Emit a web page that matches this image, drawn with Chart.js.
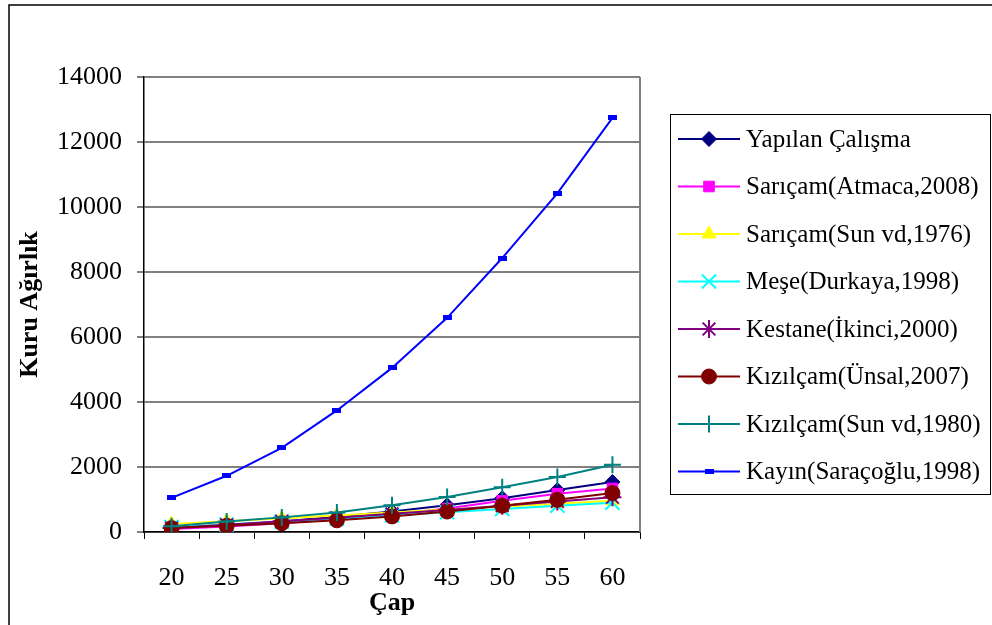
<!DOCTYPE html>
<html>
<head>
<meta charset="utf-8">
<script src="https://cdn.jsdelivr.net/npm/chart.js"></script>
<style>
  html, body { margin: 0; padding: 0; background: #fff; }
  #wrap { width: 992px; height: 625px; position: relative; }
</style>
</head>
<body>
<div id="wrap"><canvas id="c" width="992" height="625"></canvas></div>
<script>
// Çap (diameter) classes
const diameters = ['20', '25', '30', '35', '40', '45', '50', '55', '60'];

// Kuru ağırlık (dry weight) by study
const yapilanCalisma   = [110, 200, 320, 470, 630, 820, 1040, 1290, 1540];
const saricamAtmaca    = [90, 170, 270, 390, 540, 720, 960, 1180, 1340];
const saricamSun       = [250, 330, 420, 510, 600, 690, 780, 870, 960];
const meseDurkaya      = [150, 230, 320, 410, 510, 610, 710, 810, 900];
const kestaneIkinci    = [120, 220, 330, 440, 560, 680, 810, 940, 1070];
const kizilcamUnsal    = [120, 190, 270, 360, 480, 630, 810, 990, 1200];
const kizilcamSun      = [180, 320, 450, 600, 820, 1080, 1380, 1690, 2070];
const kayinSaracoglu   = [1050, 1730, 2590, 3740, 5050, 6590, 8430, 10420, 12740];

const yTicks = [0, 2000, 4000, 6000, 8000, 10000, 12000, 14000];

const seriesNames = [
  'Yapılan Çalışma',
  'Sarıçam(Atmaca,2008)',
  'Sarıçam(Sun vd,1976)',
  'Meşe(Durkaya,1998)',
  'Kestane(İkinci,2000)',
  'Kızılçam(Ünsal,2007)',
  'Kızılçam(Sun vd,1980)',
  'Kayın(Saraçoğlu,1998)'
];

// small flat bar used as the Kayın marker
const dash = document.createElement('canvas');
dash.width = 9; dash.height = 5;
(function () {
  const g = dash.getContext('2d');
  g.fillStyle = '#0000FF';
  g.fillRect(0, 0, 9, 5);
})();

const styles = [
  { color: '#000080', pointStyle: 'rectRot', radius: 7.5, bw: 1 },
  { color: '#FF00FF', pointStyle: 'rect', radius: 7.5, bw: 1 },
  { color: '#FFFF00', pointStyle: 'triangle', radius: 8, bw: 1 },
  { color: '#00FFFF', pointStyle: 'crossRot', radius: 10, bw: 2 },
  { color: '#800080', pointStyle: 'star', radius: 9, bw: 2 },
  { color: '#800000', pointStyle: 'circle', radius: 7.5, bw: 1 },
  { color: '#008080', pointStyle: 'cross', radius: 8.5, bw: 2 },
  { color: '#0000FF', pointStyle: dash, radius: 5, bw: 1 }
];

const seriesData = [yapilanCalisma, saricamAtmaca, saricamSun, meseDurkaya,
                    kestaneIkinci, kizilcamUnsal, kizilcamSun, kayinSaracoglu];

const datasets = seriesData.map((d, i) => ({
  label: seriesNames[i],
  data: d,
  borderColor: styles[i].color,
  backgroundColor: styles[i].color,
  borderWidth: 2,
  pointStyle: styles[i].pointStyle,
  pointRadius: styles[i].radius,
  pointBorderWidth: styles[i].bw,
  pointBackgroundColor: styles[i].color,
  pointBorderColor: styles[i].color,
  tension: 0,
  fill: false,
  order: seriesData.length - 1 - i
}));

const SERIF = "'Liberation Serif', 'Times New Roman', serif";

const framePlugin = {
  id: 'frame',
  beforeDraw(chart) {
    const ctx = chart.ctx;
    ctx.save();
    ctx.fillStyle = '#fff';
    ctx.fillRect(0, 0, chart.width, chart.height);
    ctx.restore();
  },
  afterDraw(chart) {
    const { ctx, chartArea: a } = chart;
    ctx.save();
    // outer frame
    ctx.strokeStyle = '#000';
    ctx.lineWidth = 1.5;
    ctx.strokeRect(9, 5, 1100, 800);
    // plot area right edge
    ctx.strokeStyle = '#808080';
    ctx.lineWidth = 2;
    ctx.beginPath();
    ctx.moveTo(a.right, a.top);
    ctx.lineTo(a.right, a.bottom);
    ctx.stroke();

    // legend
    ctx.strokeStyle = '#000';
    ctx.lineWidth = 1;
    ctx.strokeRect(670.5, 114.5, 320, 380);
    const rowTop = 139, rowGap = 47.5;
    chart.data.datasets.forEach((ds, i) => {
      const y = rowTop + i * rowGap;
      ctx.strokeStyle = ds.borderColor;
      ctx.lineWidth = 2;
      ctx.beginPath();
      ctx.moveTo(678, y);
      ctx.lineTo(740, y);
      ctx.stroke();
      ctx.fillStyle = ds.pointBackgroundColor;
      ctx.strokeStyle = ds.pointBorderColor;
      ctx.lineWidth = ds.pointBorderWidth;
      Chart.helpers.drawPoint(ctx, {
        pointStyle: ds.pointStyle,
        radius: ds.pointRadius,
        rotation: 0,
        borderWidth: ds.pointBorderWidth
      }, 709, y);
      ctx.fillStyle = '#000';
      ctx.font = '25px ' + SERIF;
      ctx.textBaseline = 'middle';
      ctx.textAlign = 'left';
      ctx.fillText(ds.label, 746, y + 1);
    });
    ctx.restore();
  }
};

new Chart(document.getElementById('c'), {
  type: 'line',
  data: { labels: diameters, datasets },
  plugins: [framePlugin],
  options: {
    responsive: false,
    animation: false,
    events: [],
    layout: { padding: { left: 10, top: 77, right: 352, bottom: 0 } },
    plugins: {
      legend: { display: false },
      tooltip: { enabled: false },
      title: { display: false }
    },
    scales: {
      x: {
        type: 'category',
        offset: true,
        afterFit(scale) { scale.height = 93; },
        grid: {
          display: true,
          offset: true,
          drawOnChartArea: false,
          drawTicks: true,
          tickLength: 7,
          tickColor: '#000',
          tickWidth: 1
        },
        border: { display: true, color: '#000', width: 1.5 },
        ticks: {
          color: '#000',
          font: { family: SERIF, size: 26 },
          padding: 24,
          maxRotation: 0
        },
        title: {
          display: true,
          text: 'Çap',
          color: '#000',
          font: { family: SERIF, size: 26, weight: 'bold' },
          padding: { top: 0, bottom: 6 }
        }
      },
      y: {
        min: 0,
        max: 14000,
        afterFit(scale) { scale.width = 134; },
        afterBuildTicks(scale) { scale.ticks = yTicks.map(v => ({ value: v })); },
        grid: {
          color: '#808080',
          lineWidth: 2,
          drawTicks: true,
          tickLength: 7,
          tickColor: '#000',
          tickWidth: 1
        },
        border: { display: true, color: '#000', width: 1.5 },
        ticks: {
          color: '#000',
          font: { family: SERIF, size: 26 },
          padding: 15,
          callback: (v) => String(v)
        },
        title: {
          display: true,
          text: 'Kuru Ağırlık',
          color: '#000',
          font: { family: SERIF, size: 26, weight: 'bold' },
          padding: { top: 5, bottom: 0 }
        }
      }
    }
  }
});
</script>
</body>
</html>
